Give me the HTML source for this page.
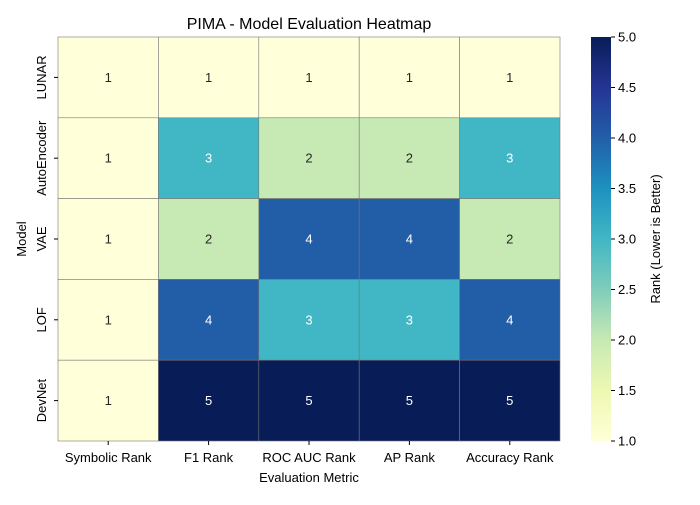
<!DOCTYPE html>
<html><head><meta charset="utf-8"><style>
body{margin:0;background:#fff;}
svg{font-family:"Liberation Sans","DejaVu Sans",sans-serif;}
</style></head><body>
<svg id="chart" width="700" height="500" xmlns="http://www.w3.org/2000/svg">
<defs><linearGradient id="cbg" x1="0" y1="1" x2="0" y2="0">
<stop offset="0" stop-color="#ffffd9"/><stop offset="0.125" stop-color="#edf8b1"/><stop offset="0.25" stop-color="#c7e9b4"/><stop offset="0.375" stop-color="#7fcdbb"/><stop offset="0.5" stop-color="#41b6c4"/><stop offset="0.625" stop-color="#1d91c0"/><stop offset="0.75" stop-color="#225ea8"/><stop offset="0.875" stop-color="#253494"/><stop offset="1" stop-color="#081d58"/>
</linearGradient></defs>
<text x="309" y="29" font-size="16" text-anchor="middle">PIMA - Model Evaluation Heatmap</text>
<g id="cells"></g>
<text x="309" y="482" font-size="13" text-anchor="middle">Evaluation Metric</text>
<text x="26" y="239" font-size="13" text-anchor="middle" transform="rotate(-90 26 239)">Model</text>
<rect x="591" y="37" width="20" height="404" fill="url(#cbg)"/>
<g id="cbticks"></g>
<text x="660" y="239" font-size="13" text-anchor="middle" transform="rotate(-90 660 239)">Rank (Lower is Better)</text>
</svg>
<script>
const models=["LUNAR","AutoEncoder","VAE","LOF","DevNet"];
const metrics=["Symbolic Rank","F1 Rank","ROC AUC Rank","AP Rank","Accuracy Rank"];
const ranks=[[1,1,1,1,1],[1,3,2,2,3],[1,2,4,4,2],[1,4,3,3,4],[1,5,5,5,5]];
const cbTicks=[1.0,1.5,2.0,2.5,3.0,3.5,4.0,4.5,5.0];
const colors=["#ffffd9","#c7e9b4","#41b6c4","#225ea8","#081d58"];
const X0=58,X1=560,Y0=37,Y1=441,NS="http://www.w3.org/2000/svg";
const cw=(X1-X0)/metrics.length,ch=(Y1-Y0)/models.length;
const xs=i=>X0+i*cw, ys=j=>Y0+j*ch, cy=v=>Y1-(v-1)/4*(Y1-Y0);
function mk(t,a,p){const e=document.createElementNS(NS,t);for(const k in a)e.setAttribute(k,a[k]);p.appendChild(e);return e;}
const g=document.getElementById('cells'),svg=document.getElementById('chart');
models.forEach((m,j)=>{metrics.forEach((mt,i)=>{const v=ranks[j][i];
const r=mk('rect',{x:xs(i),y:ys(j),width:cw,height:ch,fill:colors[Math.round(v)-1],stroke:'#777','stroke-width':0.6},g);


const t=mk('text',{x:xs(i)+cw/2,y:ys(j)+ch/2+4.5,'font-size':13,'text-anchor':'middle',fill:v>=3?'#fff':'#262626'},g);t.textContent=v;

});
const yl=mk('text',{x:46,y:ys(j)+ch/2,'font-size':13,'text-anchor':'middle',transform:`rotate(-90 46 ${ys(j)+ch/2})`},svg);yl.textContent=m;


mk('line',{x1:54,x2:58,y1:ys(j)+ch/2,y2:ys(j)+ch/2,stroke:'#000'},svg);});
metrics.forEach((mt,i)=>{const t=mk('text',{x:xs(i)+cw/2,y:462,'font-size':13,'text-anchor':'middle'},svg);t.textContent=mt;


mk('line',{x1:xs(i)+cw/2,x2:xs(i)+cw/2,y1:441,y2:445,stroke:'#000'},svg);});
const cg=document.getElementById('cbticks');
cbTicks.forEach(v=>{mk('line',{x1:611,x2:615,y1:cy(v),y2:cy(v),stroke:'#000'},cg);
const t=mk('text',{x:618,y:cy(v)+4.5,'font-size':13},cg);t.textContent=v.toFixed(1);

});
</script>
</body></html>
